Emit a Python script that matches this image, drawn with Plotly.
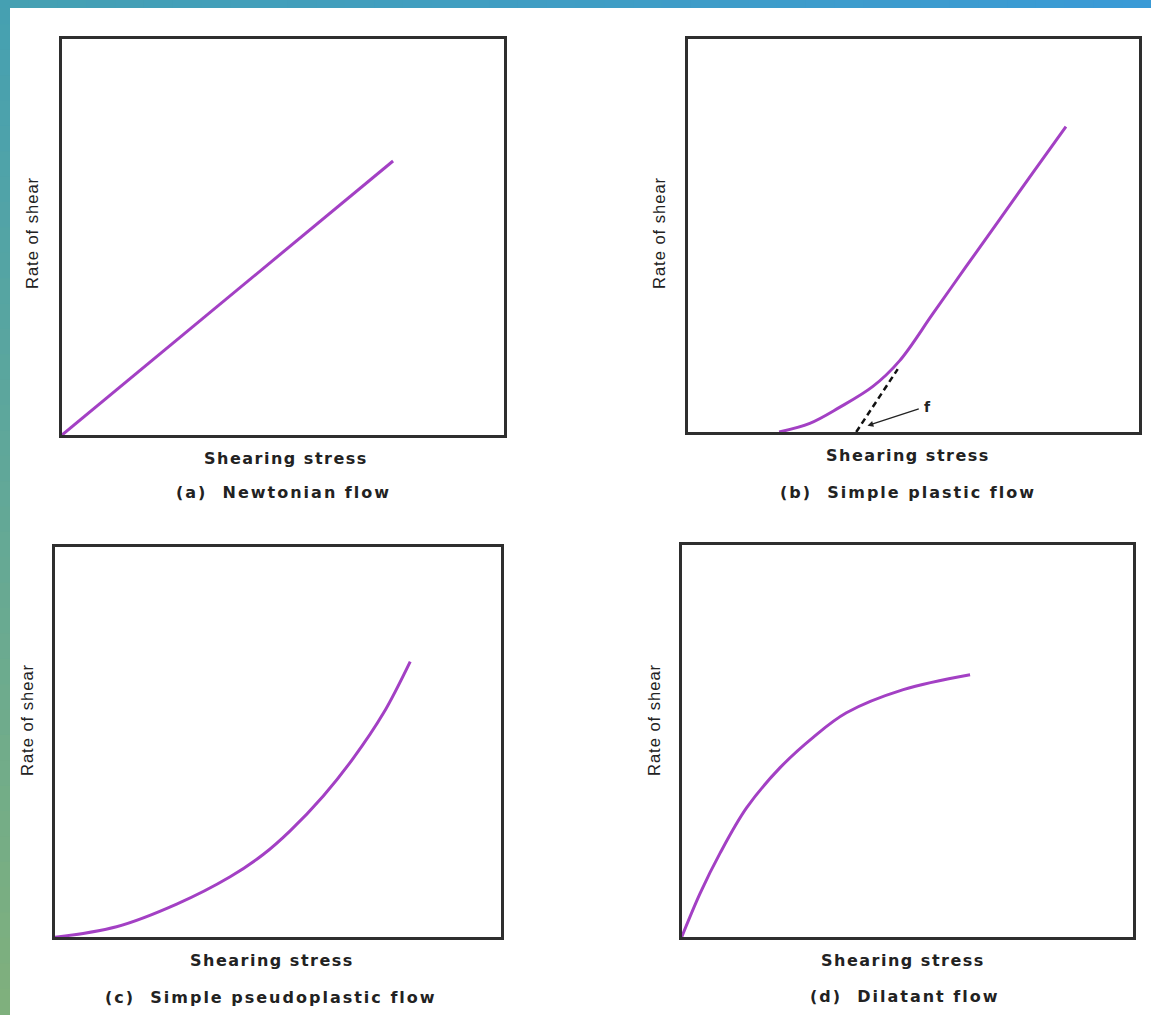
import plotly.graph_objects as go

W, H = 1151, 1015

# ---------------- data (arbitrary units, 0-10 scale) ----------------
newton_x = [0.0, 7.49]
newton_y = [0.0, 6.92]

plastic_x = [2.02, 2.70, 3.35, 4.10, 4.69, 5.43, 6.16, 6.90, 7.64, 8.38]
plastic_y = [0.00, 0.22, 0.62, 1.16, 1.81, 3.01, 4.20, 5.39, 6.59, 7.77]
yield_x = [3.73, 4.65]
yield_y = [0.00, 1.60]

pseudo_x = [0.00, 1.38, 2.73, 3.93, 4.67, 5.27, 6.02, 6.69, 7.37, 7.97]
pseudo_y = [0.00, 0.27, 0.85, 1.55, 2.12, 2.72, 3.62, 4.58, 5.74, 7.06]

dilat_x = [0.00, 0.41, 0.85, 1.44, 2.18, 2.92, 3.65, 4.91, 6.39]
dilat_y = [0.00, 1.12, 2.14, 3.30, 4.32, 5.10, 5.72, 6.31, 6.69]

x_label = "Shearing stress"
y_label = "Rate of shear"
captions = ["(a)  Newtonian flow", "(b)  Simple plastic flow",
            "(c)  Simple pseudoplastic flow", "(d)  Dilatant flow"]

# ---------------- styling ----------------
CURVE = "#a340c4"
FRAME = "#2e2e2e"
BOLD_FONT = "DejaVu Sans, Verdana, sans-serif"
NARROW_FONT = "Liberation Sans Narrow, Arial Narrow, Liberation Sans, sans-serif"


def px(x):
    return x / W


def py(y):
    return 1 - y / H


def spaced(txt, ls):
    return '<span style="letter-spacing:%.1fpx">%s</span>' % (ls, txt)


# panel frames in pixels: (left, right, top, bottom)
frames = [
    (62, 504, 39, 435),
    (688, 1139, 39, 432),
    (55, 500.7, 546.7, 937.3),
    (681.7, 1133, 545, 937),
]

fig = go.Figure()

series = [
    (newton_x, newton_y),
    (plastic_x, plastic_y),
    (pseudo_x, pseudo_y),
    (dilat_x, dilat_y),
]

for i, (xs, ys) in enumerate(series):
    sfx = "" if i == 0 else str(i + 1)
    fig.add_trace(go.Scatter(
        x=xs, y=ys, mode="lines",
        line=dict(color=CURVE, width=3, shape="spline", smoothing=1.0),
        xaxis="x" + sfx, yaxis="y" + sfx, cliponaxis=False,
        showlegend=False, hoverinfo="skip"))

fig.add_trace(go.Scatter(
    x=yield_x, y=yield_y, mode="lines",
    line=dict(color="#111111", width=2.5, dash="6px,4px"),
    xaxis="x2", yaxis="y2", cliponaxis=False,
    showlegend=False, hoverinfo="skip"))

layout = dict(
    width=W, height=H,
    margin=dict(l=0, r=0, t=0, b=0),
    paper_bgcolor="white", plot_bgcolor="white",
    showlegend=False,
)

annotations = []
for i, (l, r, t, b) in enumerate(frames):
    sfx = "" if i == 0 else str(i + 1)
    ax_common = dict(range=[0, 10], showgrid=False, zeroline=False,
                     showticklabels=False, ticks="", showline=True,
                     linecolor=FRAME, linewidth=2.5, mirror=True,
                     fixedrange=True)
    layout["xaxis" + sfx] = dict(domain=[px(l), px(r)], anchor="y" + sfx, **ax_common)
    layout["yaxis" + sfx] = dict(domain=[py(b), py(t)], anchor="x" + sfx, **ax_common)

# text placement (pixel centres)
xlab_pos = [(286, 458), (908, 455), (272, 960), (903, 960)]
cap_pos = [(283, 492), (908, 492), (271, 997), (905, 996)]
ylab_pos = [(32, 233), (659, 233), (27, 720), (654, 720)]

for i in range(4):
    annotations.append(dict(
        x=px(xlab_pos[i][0]), y=py(xlab_pos[i][1]), xref="paper", yref="paper",
        text="<b>" + spaced(x_label, 1.5) + "</b>", showarrow=False,
        font=dict(family=BOLD_FONT, size=16, color="#222222"),
        xanchor="center", yanchor="middle"))
    annotations.append(dict(
        x=px(cap_pos[i][0]), y=py(cap_pos[i][1]), xref="paper", yref="paper",
        text="<b>" + spaced(captions[i], 2.0) + "</b>", showarrow=False,
        font=dict(family=BOLD_FONT, size=16, color="#222222"),
        xanchor="center", yanchor="middle"))
    annotations.append(dict(
        x=px(ylab_pos[i][0]), y=py(ylab_pos[i][1]), xref="paper", yref="paper",
        text=spaced(y_label, 1.0), showarrow=False, textangle=-90,
        font=dict(family=NARROW_FONT, size=16.5, color="#222222"),
        xanchor="center", yanchor="middle"))

# yield value marker "f"
annotations.append(dict(
    x=3.98, y=0.16, xref="x2", yref="y2",
    ax=5.15, ay=0.60, axref="x2", ayref="y2",
    text="", showarrow=True, arrowhead=2, arrowsize=0.9,
    arrowwidth=1.3, arrowcolor="#222222"))
annotations.append(dict(
    x=5.31, y=0.64, xref="x2", yref="y2",
    text="<b>f</b>", showarrow=False,
    font=dict(family=BOLD_FONT, size=14, color="#222222"),
    xanchor="center", yanchor="middle"))

layout["annotations"] = annotations

# background slide gradient strips (left and top)
shapes = []
N = 40
def mix(c1, c2, t):
    return "rgb(%d,%d,%d)" % tuple(round(a + (b - a) * t) for a, b in zip(c1, c2))

left_top, left_bot = (69, 160, 178), (128, 176, 124)
top_left, top_right = (69, 160, 178), (58, 154, 214)
for k in range(N):
    t0, t1 = k / N, (k + 1) / N
    shapes.append(dict(type="rect", xref="paper", yref="paper",
                       x0=0, x1=px(10), y0=1 - t1, y1=1 - t0 + 0.001,
                       fillcolor=mix(left_top, left_bot, (k + 0.5) / N),
                       line=dict(width=0), layer="below"))
    shapes.append(dict(type="rect", xref="paper", yref="paper",
                       x0=t0, x1=t1 + 0.001, y0=py(8), y1=1,
                       fillcolor=mix(top_left, top_right, (k + 0.5) / N),
                       line=dict(width=0), layer="below"))
layout["shapes"] = shapes

fig.update_layout(**layout)
fig.write_html(
    "out.html",
    config={"displayModeBar": False},
    post_script="document.body.style.margin='0';document.body.style.overflow='hidden';",
)
